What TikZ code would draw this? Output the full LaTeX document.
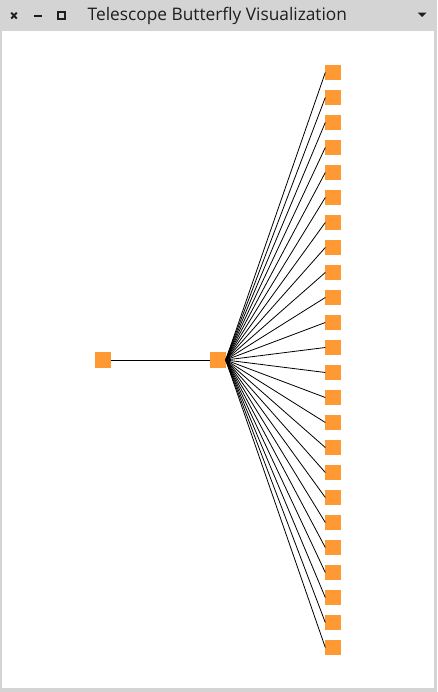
\documentclass[tikz,border=0pt]{standalone}
\usepackage{fontspec}
\setmainfont{Open Sans}
\definecolor{nodeorange}{RGB}{255,153,51}
\definecolor{framegray}{RGB}{212,212,212}
\definecolor{titletext}{RGB}{30,30,30}
\tikzset{
  sq/.style={fill=nodeorange, draw=none, minimum width=15.4pt, minimum height=15.4pt, inner sep=0pt, outer sep=0pt},
  edge/.style={draw=black, line width=0.8pt},
  icon/.style={line width=2.1pt, draw=titletext},
}
\begin{document}
\begin{tikzpicture}[x=1pt,y=-1pt]
\useasboundingbox (0,0) rectangle (437,692);
% window frame
\fill[framegray] (0,0) rectangle (437,692);
\fill[white] (2,31) rectangle (434,688);
% title bar icons
\draw[icon, line width=1.9pt] (11.2,12.6) -- (16.8,18.6) (16.8,12.6) -- (11.2,18.6);
\draw[icon] (34,15.6) -- (42,15.6);
\draw[icon, line width=1.9pt] (58.3,12) rectangle (65,18.7);
\fill[titletext] (417.7,12.7) -- (426.3,12.7) -- (422,17) -- cycle;
\node[anchor=base west, inner sep=0pt, text=titletext, font=\fontsize{17.3}{17.3}\selectfont] (title) at (87.5,21) {Telescope Butterfly Visualization};
% nodes
\node[sq] (root) at (103,360) {};
\node[sq] (mid) at (218,360) {};
\foreach \k in {0,...,23} {
  \node[sq] (r\k) at (333,72.5+25*\k) {};
}
\draw[edge] (root.east) -- (mid.west);
\foreach \k in {0,...,23} {
  \draw[edge] (mid.east) -- (r\k.west);
}
\end{tikzpicture}
\end{document}
